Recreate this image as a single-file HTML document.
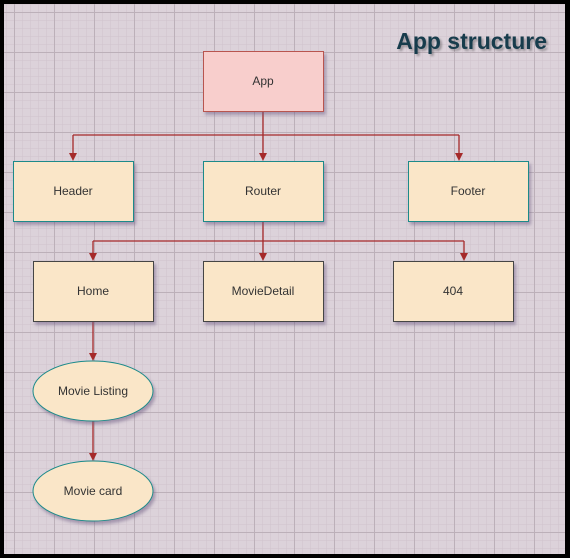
<!DOCTYPE html>
<html><head><style>
html,body{margin:0;padding:0;}
body{width:570px;height:558px;overflow:hidden;background:#000;}
</style></head><body>
<svg width="570" height="558" xmlns="http://www.w3.org/2000/svg" style="position:absolute;left:0;top:0">
<defs>
<pattern id="mn" x="14" y="12" width="8" height="8" patternUnits="userSpaceOnUse">
<path d="M0 0H8M0 0V8" stroke="#cfc3cc" stroke-width="1" fill="none"/>
</pattern>
<pattern id="mj" x="14" y="12" width="40" height="40" patternUnits="userSpaceOnUse">
<path d="M0 0.5H40M0.5 0V40" stroke="#bcb0b9" stroke-width="1" fill="none"/>
</pattern>
<marker id="ar" markerWidth="8" markerHeight="8" refX="4" refY="7" orient="auto" markerUnits="userSpaceOnUse">
<path d="M0 0L4 7L8 0L4 2Z" fill="#a52a2a" transform="rotate(-90 4 4)"/>
</marker>
<filter id="sh" x="-10%" y="-10%" width="130%" height="140%"><feDropShadow dx="2" dy="3" stdDeviation="1.5" flood-color="#6a5a80" flood-opacity="0.5"/></filter>
</defs>
<rect x="4" y="4" width="561" height="550" fill="#dcd2da"/>
<rect x="4" y="4" width="561" height="550" fill="url(#mn)"/>
<rect x="4" y="4" width="561" height="550" fill="url(#mj)"/>
<text x="547" y="49" text-anchor="end" font-family="Liberation Sans, sans-serif" font-weight="bold" font-size="23" fill="#173c4c" style="text-shadow:2px 2px 2px rgba(0,0,0,0.3)">App structure</text>
<g stroke="#a52a2a" stroke-width="1.3" fill="none">
<path d="M263 111V135M73 135H459M73 135V155M263 135V155M459 135V155"/>
<path d="M263 221V241M93 241H464M93 241V255M263 241V255M464 241V255"/>
<path d="M93 321V355M93 421V455"/>
</g>
<g fill="#a52a2a">
<path d="M69 153L77 153L73 161Z"/><path d="M259 153L267 153L263 161Z"/><path d="M455 153L463 153L459 161Z"/>
<path d="M89 253L97 253L93 261Z"/><path d="M259 253L267 253L263 261Z"/><path d="M460 253L468 253L464 261Z"/>
<path d="M89 353L97 353L93 361Z"/><path d="M89 453L97 453L93 461Z"/>
</g>
<g filter="url(#sh)" stroke-width="1">
<rect x="203.5" y="51.5" width="120" height="60" fill="#f8cecc" stroke="#b85450"/>
<rect x="13.5" y="161.5" width="120" height="60" fill="#fae6c8" stroke="#1a8a8a"/>
<rect x="203.5" y="161.5" width="120" height="60" fill="#fae6c8" stroke="#1a8a8a"/>
<rect x="408.5" y="161.5" width="120" height="60" fill="#fae6c8" stroke="#1a8a8a"/>
<rect x="33.5" y="261.5" width="120" height="60" fill="#fae6c8" stroke="#444"/>
<rect x="203.5" y="261.5" width="120" height="60" fill="#fae6c8" stroke="#444"/>
<rect x="393.5" y="261.5" width="120" height="60" fill="#fae6c8" stroke="#444"/>
<ellipse cx="93" cy="391" rx="60" ry="30" fill="#fae6c8" stroke="#1a8a8a"/>
<ellipse cx="93" cy="491" rx="60" ry="30" fill="#fae6c8" stroke="#1a8a8a"/>
</g>
<g font-family="Liberation Sans, sans-serif" font-size="12" fill="#333" text-anchor="middle">
<text x="263" y="85">App</text>
<text x="73" y="195">Header</text>
<text x="263" y="195">Router</text>
<text x="468" y="195">Footer</text>
<text x="93" y="295">Home</text>
<text x="263" y="295">MovieDetail</text>
<text x="453" y="295">404</text>
<text x="93" y="395">Movie Listing</text>
<text x="93" y="495">Movie card</text>
</g>
</svg>
</body></html>
